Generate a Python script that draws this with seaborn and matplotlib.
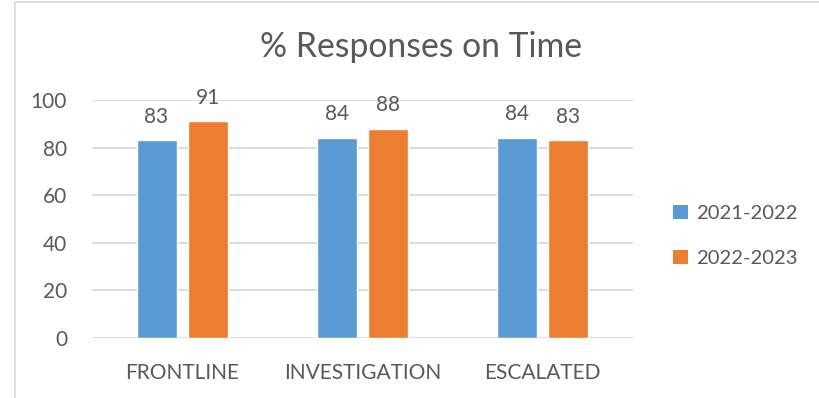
import matplotlib
matplotlib.use("Agg")
import matplotlib.pyplot as plt
import seaborn as sns
import pandas as pd
from matplotlib.patches import Patch
from matplotlib.lines import Line2D

categories = ["FRONTLINE", "INVESTIGATION", "ESCALATED"]
series_names = ["2021-2022", "2022-2023"]
values_2021 = [83, 84, 84]
values_2022 = [91, 88, 83]
yticks = [0, 20, 40, 60, 80, 100]
title = "% Responses on Time"

colors = ["#5B9BD5", "#ED7D31"]
text_color = "#595959"
grid_color = "#D9D9D9"

df = pd.DataFrame({
    "category": categories * 2,
    "series": [series_names[0]] * 3 + [series_names[1]] * 3,
    "value": values_2021 + values_2022,
})

sns.set_theme(style="white")
plt.rcParams["font.family"] = ["Lato", "DejaVu Sans"]

fig = plt.figure(figsize=(8.19, 3.98), dpi=100)
ax = fig.add_axes([92 / 819, 1 - 338 / 398, (633 - 92) / 819, (338 - 100) / 398])

sns.barplot(data=df, x="category", y="value", hue="series", order=categories,
            hue_order=series_names, palette=colors, width=0.568, gap=0.218,
            ax=ax, legend=False, saturation=1, zorder=3)

for c in ax.containers:
    ax.bar_label(c, fmt="%d", padding=10, fontsize=15, color=text_color)

ax.set_ylim(0, 100)
ax.set_yticks(yticks)
ax.set_xlim(-0.5, 2.5)
ax.yaxis.grid(True, color=grid_color, linewidth=1.3, zorder=0)
ax.set_axisbelow(True)
for s in ax.spines.values():
    s.set_visible(False)
ax.tick_params(axis="both", length=0, labelsize=15, labelcolor=text_color)
ax.tick_params(axis="y", pad=18)
ax.tick_params(axis="x", pad=18)
ax.set_xlabel("")
ax.set_ylabel("")

fig.text(421 / 819, 1 - 47 / 398, title, ha="center", va="center",
         fontsize=24.3, color=text_color)

handles = [Patch(facecolor=colors[0], edgecolor="none"),
           Patch(facecolor=colors[1], edgecolor="none")]
fig.legend(handles, series_names, loc="center left",
           bbox_to_anchor=(673 / 819, 1 - 236 / 398), frameon=False,
           fontsize=14.6, labelcolor=text_color, handlelength=0.72,
           handleheight=0.72, handletextpad=0.42, labelspacing=1.35,
           borderpad=0, borderaxespad=0)

# chart border (partially visible)
fig.add_artist(Line2D([15 / 819, 15 / 819], [0, 1 - 2 / 398], transform=fig.transFigure,
                      color="#D9D9D9", linewidth=1.2))
fig.add_artist(Line2D([15 / 819, 1], [1 - 2 / 398, 1 - 2 / 398], transform=fig.transFigure,
                      color="#D9D9D9", linewidth=1.2))

fig.savefig("out.png", dpi=100, facecolor="white")
